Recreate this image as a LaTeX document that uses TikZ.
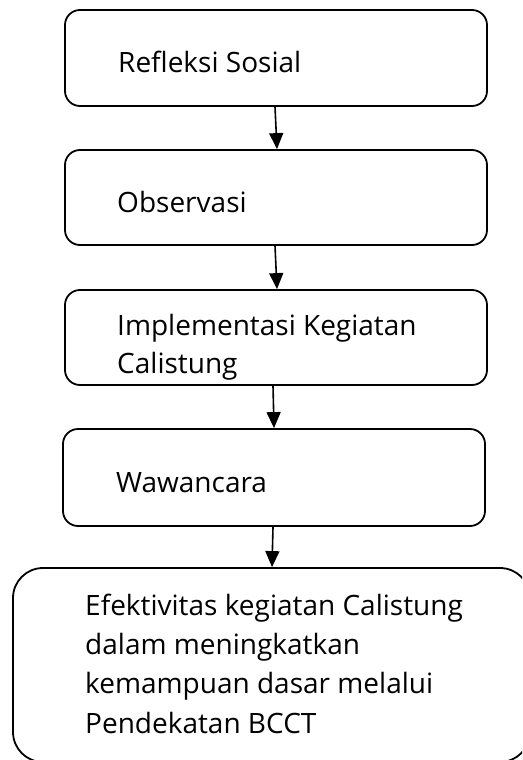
\documentclass[tikz,border=0pt]{standalone}
\usepackage{fontspec}
\setmainfont{Open Sans}
\usetikzlibrary{arrows.meta}
\begin{document}
\begin{tikzpicture}[x=1pt,y=-1pt,
  box/.style={draw=black, line width=1.8pt, rounded corners=15pt, inner sep=0pt, fill=white},
  bigbox/.style={box, rounded corners=30pt},
  txt/.style={anchor=base west, inner sep=0pt, align=left, font=\fontsize{28}{38}\selectfont, text=black},
  arr/.style={line width=1.6pt, -{Triangle[length=16pt,width=14pt]}}]
\clip (0,0) rectangle (522,760);
\fill[white] (0,0) rectangle (522,760);
\node[box, minimum width=422pt, minimum height=96pt] (b1) at (276,58) {};
\node[box, minimum width=422pt, minimum height=95pt] (b2) at (276,197.5) {};
\node[box, minimum width=422pt, minimum height=95pt] (b3) at (276,337.5) {};
\node[box, minimum width=422pt, minimum height=97pt] (b4) at (274,477.5) {};
\node[bigbox, minimum width=517pt, minimum height=194pt] (b5) at (271.5,665) {};
\node[txt] (t1) at (118,72) {Refleksi Sosial};
\node[txt] (t2) at (117,212) {Observasi};
\node[txt] (t3) at (117,373) {Implementasi Kegiatan\\Calistung};
\node[txt] (t4) at (116,492) {Wawancara};
\node[txt, font=\fontsize{28}{39.3}\selectfont] (t5) at (85,733) {Efektivitas kegiatan Calistung\\dalam meningkatkan\\kemampuan dasar melalui\\Pendekatan BCCT};
\draw[arr] ([xshift=-1pt]b1.south) -- ([xshift=1pt]b2.north);
\draw[arr] ([xshift=-1pt]b2.south) -- ([xshift=1pt]b3.north);
\draw[arr] ([xshift=-3pt]b3.south) -- ([xshift=0pt]b4.north);
\draw[arr] ([xshift=-1pt]b4.south) -- ([xshift=0.5pt]b5.north);
\end{tikzpicture}
\end{document}
